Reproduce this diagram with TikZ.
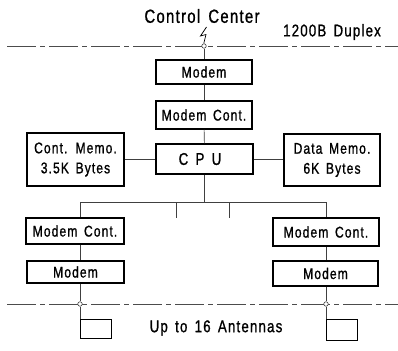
\documentclass[tikz,border=0pt]{standalone}
\usepackage{fontspec}
\setmainfont{Liberation Sans}[LetterSpace=7, WordSpace=1.5, FakeStretch=0.78, FakeBold=1]
\begin{document}
\begin{tikzpicture}[x=1pt, y=-1pt,
  box/.style={draw, line width=1.2pt, inner sep=0pt, align=center,
    font=\fontsize{15.5}{20}\selectfont},
  conn/.style={draw=black!75, line width=0.6pt},
  rail/.style={draw=black!70, line width=0.7pt,
    dash pattern=on 29pt off 4pt on 5pt off 4pt},
  tap/.style={circle, draw=black!75, fill=white, inner sep=0pt,
    minimum size=4.5pt, line width=0.6pt},
  ant/.style={draw, line width=1.2pt, inner sep=0pt, anchor=north west,
    minimum width=31pt},
  label/.style={inner sep=0pt}]
\useasboundingbox (0,0) rectangle (398,350);

% headings
\node[label, font=\fontsize{19}{20}\selectfont] (cc) at (202,16) {Control Center};
\node[label, font=\fontsize{17}{18}\selectfont] (dup) at (332,32) {1200B Duplex};
\node[label, font=\fontsize{17}{18}\selectfont] (ants) at (216,328) {Up to 16 Antennas};

% transmission lines
\coordinate (railTL) at (7,46);
\coordinate (railTR) at (398,46);
\coordinate (railBL) at (7,304);
\coordinate (railBR) at (398,304);
\draw[rail] (railTL) -- (railTR);
\draw[rail] (railBL) -- (railBR);

% central chain
\node[box, minimum width=96pt, minimum height=24pt] (modemT) at (204,72) {Modem};
\node[box, minimum width=96pt, minimum height=28pt] (mcT) at (204,115) {Modem Cont.};
\node[box, minimum width=97pt, minimum height=30pt] (cpu) at (204.5,159) {};
\node[label, font=\fontsize{17}{18}\selectfont] (cputxt) at (200,159) {C P U};
\node[box, minimum width=97pt, minimum height=53pt] (cmem) at (75.5,159.5) {Cont. Memo.\\3.5K Bytes};
\node[box, minimum width=96pt, minimum height=52pt] (dmem) at (332,160) {Data Memo.\\6K Bytes};

% line branches
\node[box, minimum width=98pt, minimum height=26pt] (mcL) at (75,231) {Modem Cont.};
\node[box, minimum width=106pt, minimum height=28pt] (mcR) at (326,232) {Modem Cont.};
\node[box, minimum width=97pt, minimum height=22pt] (modemL) at (75.5,272) {Modem};
\node[box, minimum width=105pt, minimum height=25pt] (modemR) at (325.5,273.5) {Modem};

% antennas
\node[ant, minimum height=19pt] (antL) at (80,319) {};
\node[ant, minimum height=21pt] (antR) at (326,319) {};

% taps on the lines
\node[tap] (tapT) at (204,46) {};
\node[tap] (tapL) at (80,304) {};
\node[tap] (tapR) at (326,304) {};

% link to the control center
\coordinate (zA) at (206.5,27);
\coordinate (zB) at (200.5,36);
\coordinate (zC) at (206,34.5);
\coordinate (zD) at (204,42.5);
\draw[line width=0.7pt] (zA) -- (zB) -- (zC) -- (zD) -- (tapT.north);

% vertical connections
\draw[conn] (tapT) -- (modemT);
\draw[conn] (modemT) -- (mcT);
\draw[conn] (mcT) -- (cpu);
\draw[conn] (cpu.west) -- (cmem.east |- cpu.west);
\draw[conn] (cpu.east) -- (dmem.west |- cpu.east);

% bus
\coordinate (busL) at (80,202);
\coordinate (busR) at (326,202);
\coordinate (busM) at (204.5,202);
\coordinate (stubA) at (176,202);
\coordinate (stubB) at (229,202);
\coordinate (stubAe) at (176,218);
\coordinate (stubBe) at (229,218);
\draw[conn] (cpu.south -| busM) -- (busM);
\draw[conn] (mcL.north -| busL) -- (busL) -- (busR) -- (mcR.north -| busR);
\draw[conn] (stubA) -- (stubAe);
\draw[conn] (stubB) -- (stubBe);

\draw[conn] (mcL.south -| busL) -- (modemL.north -| busL);
\draw[conn] (mcR.south -| busR) -- (modemR.north -| busR);
\draw[conn] (modemL.south -| tapL) -- (tapL);
\draw[conn] (modemR.south -| tapR) -- (tapR);
\draw[conn] (tapL) -- (antL.north west);
\draw[conn] (tapR) -- (antR.north west);
\end{tikzpicture}
\end{document}
